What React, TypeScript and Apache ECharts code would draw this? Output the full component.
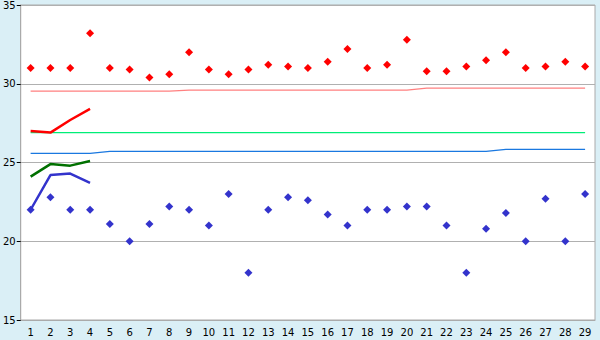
import React, { useEffect, useRef } from "react";
import * as echarts from "echarts";

const categories = Array.from({ length: 29 }, (_, i) => String(i + 1));
const yTicks = [15, 20, 25, 30, 35];

const redPoints = [31.0, 31.0, 31.0, 33.2, 31.0, 30.9, 30.4, 30.6, 32.0, 30.9, 30.6, 30.9, 31.2, 31.1, 31.0, 31.4, 32.2, 31.0, 31.2, 32.8, 30.8, 30.8, 31.1, 31.5, 32.0, 31.0, 31.1, 31.4, 31.1];
const bluePoints = [22.0, 22.8, 22.0, 22.0, 21.1, 20.0, 21.1, 22.2, 22.0, 21.0, 23.0, 18.0, 22.0, 22.8, 22.6, 21.7, 21.0, 22.0, 22.0, 22.2, 22.2, 21.0, 18.0, 20.8, 21.8, 20.0, 22.7, 20.0, 23.0];

const redLine = [27.0, 26.9, 27.7, 28.4];
const greenLine = [24.1, 24.9, 24.8, 25.1];
const blueLine = [22.0, 24.2, 24.3, 23.7];

const pinkLevel = [29.53, 29.53, 29.53, 29.53, 29.53, 29.53, 29.53, 29.53, 29.6, 29.6, 29.6, 29.6, 29.6, 29.6, 29.6, 29.6, 29.6, 29.6, 29.6, 29.6, 29.72, 29.72, 29.72, 29.72, 29.72, 29.72, 29.72, 29.72, 29.72];
const springLevel = [26.9, 26.9, 26.9, 26.9, 26.9, 26.9, 26.9, 26.9, 26.9, 26.9, 26.9, 26.9, 26.9, 26.9, 26.9, 26.9, 26.9, 26.9, 26.9, 26.9, 26.9, 26.9, 26.9, 26.9, 26.9, 26.9, 26.9, 26.9, 26.9];
const skyLevel = [25.58, 25.58, 25.58, 25.58, 25.71, 25.71, 25.71, 25.71, 25.71, 25.71, 25.71, 25.71, 25.71, 25.71, 25.71, 25.71, 25.71, 25.71, 25.71, 25.71, 25.71, 25.71, 25.71, 25.71, 25.83, 25.83, 25.83, 25.83, 25.83];

export default function App() {
  const ref = useRef<HTMLDivElement>(null);
  useEffect(() => {
    document.body.style.margin = "0";
    if (!ref.current) return;
    const chart = echarts.init(ref.current, undefined, { renderer: "svg" });
    const font = { fontFamily: "DejaVu Sans", fontSize: 10, color: "#000" };
    const flat = (data: number[], color: string) => ({
      type: "line",
      data,
      symbol: "none",
      lineStyle: { color, width: 1.2 },
      z: 2,
    });
    const thick = (data: number[], color: string) => ({
      type: "line",
      data,
      symbol: "none",
      lineStyle: { color, width: 2.5 },
      z: 3,
    });
    const dots = (data: number[], color: string) => ({
      type: "scatter",
      data,
      symbol: "diamond",
      symbolSize: 8,
      itemStyle: { color, opacity: 1 },
      z: 4,
    });
    chart.setOption({
      animation: false,
      backgroundColor: "#daeff6",
      grid: {
        left: 20,
        right: 5,
        top: 5,
        bottom: 20,
        show: true,
        backgroundColor: "#ffffff",
        borderColor: "#aaaaaa",
        borderWidth: 1,
      },
      xAxis: {
        type: "category",
        data: categories,
        boundaryGap: true,
        axisLine: { lineStyle: { color: "#aaaaaa", width: 1 } },
        axisTick: { alignWithLabel: true, length: 5, lineStyle: { color: "#000" } },
        axisLabel: { ...font, margin: 7, interval: 0 },
        splitLine: { show: false },
      },
      yAxis: {
        type: "value",
        min: yTicks[0],
        max: yTicks[yTicks.length - 1],
        interval: 5,
        axisLine: { show: true, lineStyle: { color: "#aaaaaa", width: 1 } },
        axisTick: { show: true, length: 4, lineStyle: { color: "#000" } },
        axisLabel: { ...font, margin: 5 },
        splitLine: { show: true, lineStyle: { color: "#b0b0b0", width: 1 } },
      },
      series: [
        flat(pinkLevel, "#ff8080"),
        flat(springLevel, "#00ee77"),
        flat(skyLevel, "#1a78e0"),
        thick(redLine, "#ff0000"),
        thick(greenLine, "#007000"),
        thick(blueLine, "#3333cc"),
        dots(redPoints, "#ff0000"),
        dots(bluePoints, "#3333cc"),
      ],
    });
    return () => chart.dispose();
  }, []);
  return <div ref={ref} style={{ width: 600, height: 340 }} />;
}
